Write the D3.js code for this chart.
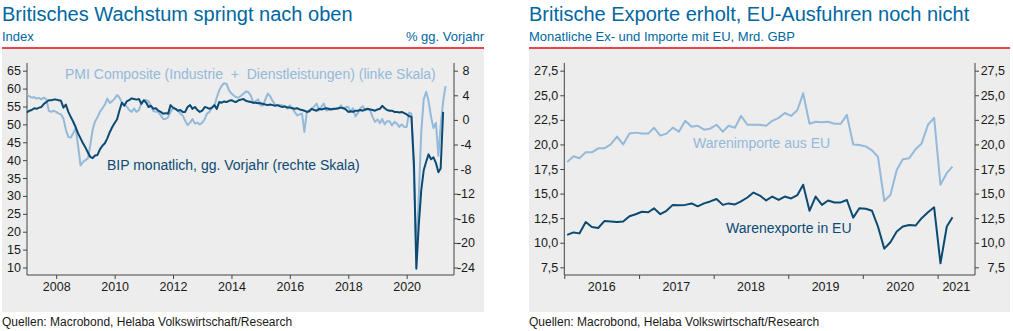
<!DOCTYPE html>
<html><head><meta charset="utf-8">
<script src="https://cdn.jsdelivr.net/npm/d3@7"></script>
<style>
body{margin:0;background:#fff;}
svg{display:block;font-family:"Liberation Sans",Arial,Helvetica,sans-serif;}
</style></head><body>
<svg id="c" width="1013" height="331"></svg>
<script>
// ---------- DATA: left chart (monthly, starting Jan 2007) ----------
const pmiStart = new Date(2007, 0, 1);
const pmiValues = [
58.3,57.8,57.5,57.6,57.2,57.4,57.0,57.5,57.0,53.8,53.5,53.8,
53.5,53.0,52.8,51.6,48.5,46.5,46.3,47.5,49.0,44.0,38.5,39.5,
40.0,40.5,44.0,48.5,50.8,52.0,53.5,54.5,55.5,57.2,56.0,56.5,
57.2,58.2,57.5,56.2,55.5,55.0,54.0,53.5,54.4,53.5,54.0,56.0,
56.8,56.8,56.5,55.0,53.7,53.5,53.5,52.5,51.5,51.5,52.0,53.5,
54.5,54.3,54.0,53.0,52.5,51.0,49.8,50.5,51.5,50.2,50.5,50.0,
50.5,51.5,53.0,53.5,54.5,55.2,57.5,59.5,60.8,61.5,61.3,59.5,
58.6,58.0,57.6,57.5,58.0,58.6,59.2,59.0,58.0,56.0,56.5,57.0,
55.3,55.3,57.0,58.6,57.8,56.5,55.5,55.3,55.5,55.3,55.0,54.4,
55.3,54.5,53.5,52.5,52.8,53.0,47.9,53.5,54.0,54.4,55.0,55.8,
53.9,55.0,55.8,53.9,54.0,54.4,54.2,54.4,54.5,55.3,54.4,54.8,
54.9,53.5,54.5,52.2,53.2,54.5,55.1,53.9,54.2,53.9,52.1,50.7,
51.4,50.3,51.5,50.0,50.9,50.9,49.7,50.7,50.2,49.3,50.0,49.3,
49.3,53.3,53.0,36.0,13.8,30.0,47.7,57.0,59.1,56.5,52.1,49.0,
50.4,41.2,49.6,56.4,60.7
];
const bipValues = [
1.2,1.5,1.6,1.9,1.8,2.0,2.1,2.6,2.9,3.2,3.2,3.3,
3.3,3.2,3.1,2.0,2.5,1.3,0.5,-0.3,-1.2,-2.2,-3.0,-3.8,
-4.5,-5.3,-6.0,-6.2,-5.8,-5.7,-4.8,-4.2,-3.8,-3.0,-2.0,-1.2,
-0.5,0.1,1.5,2.8,2.3,3.0,3.2,3.5,3.4,3.3,3.4,2.6,
3.2,2.8,2.1,2.3,1.8,1.9,1.5,1.3,1.0,1.1,1.0,2.4,
2.0,1.8,1.5,1.6,1.3,1.3,2.1,2.4,1.8,2.1,1.6,1.3,
1.5,2.1,2.0,1.8,2.0,2.4,1.8,2.9,2.8,3.0,2.9,3.1,
3.2,3.0,2.9,3.2,3.3,3.4,3.1,3.0,2.9,2.8,2.8,2.7,
2.7,2.6,2.5,2.4,2.5,2.4,2.3,2.4,2.2,2.1,2.2,2.0,
2.0,1.9,1.8,1.9,1.7,1.6,1.5,1.3,1.4,1.8,1.6,1.5,
1.8,1.7,1.8,1.9,1.8,1.7,1.8,1.8,1.9,2.0,1.9,1.7,
1.3,1.4,1.3,1.5,1.5,1.6,1.5,1.7,1.8,1.7,1.6,1.5,
1.7,1.8,2.3,1.9,1.6,1.5,1.5,1.3,1.3,1.2,1.3,1.1,
0.9,0.6,0.5,-7.0,-24.2,-17.0,-11.5,-8.2,-6.8,-5.6,-6.4,-6.1,
-7.0,-8.5,-7.9,1.3
];
const leftTicksIndex = [10,15,20,25,30,35,40,45,50,55,60,65];
const leftTicksPct = [-24,-20,-16,-12,-8,-4,0,4,8];
const leftYears = [2008,2010,2012,2014,2016,2018,2020];

// ---------- DATA: right chart (monthly, starting Jan 2016) ----------
const tradeStart = new Date(2016, 0, 15);
const exportValues = [
10.8,11.05,10.95,12.1,11.6,11.5,12.2,12.15,12.1,12.15,12.7,12.9,
13.15,13.1,13.5,12.9,13.25,13.85,13.8,13.85,14.0,13.7,14.0,14.2,
14.45,13.85,14.0,13.9,14.2,14.6,15.1,14.8,14.3,14.7,14.35,14.7,
14.5,14.85,15.9,13.25,14.7,13.85,14.3,14.1,14.1,14.35,12.55,13.5,
13.45,13.25,11.65,9.4,10.05,11.15,11.65,11.8,11.75,12.5,13.1,13.6,
7.9,11.65,12.6
];
const importValues = [
18.2,18.8,18.6,19.2,19.2,19.6,19.6,20.0,20.8,20.0,21.1,21.2,
21.1,21.1,21.7,20.9,21.1,21.7,21.3,22.4,21.8,21.9,21.5,21.6,
22.0,21.3,21.9,21.7,22.9,22.0,22.0,22.0,21.9,22.4,22.7,23.2,
22.9,23.5,25.2,22.1,22.3,22.25,22.3,22.1,22.1,23.0,20.0,19.95,
19.8,19.4,18.75,14.25,14.85,17.4,18.5,18.6,19.5,20.1,22.0,22.7,
15.9,17.1,17.75
];
const rightTicks = [7.5,10,12.5,15,17.5,20,22.5,25,27.5];
const rightYears = [2016,2017,2018,2019,2020,2021];

// ---------- STYLE ----------
const RED = "#e30613", PANEL = "#ededed", DARK = "#0b4a72", LIGHT = "#94b9d9",
      TITLE = "#0067a2", AXIS = "#444", TXT = "#1a1a1a";
const de = d3.formatLocale({decimal: ",", thousands: ".", grouping: [3], currency: ["", " €"], minus: "-"});
const f1 = de.format(".1f"), f0 = de.format("d");

const svg = d3.select("#c");

function panel(x0, x1, title, subL, subR) {
  svg.append("rect").attr("x", x0).attr("y", 49).attr("width", x1 - x0).attr("height", 263).attr("fill", PANEL);
  svg.append("line").attr("x1", x0).attr("x2", x1).attr("y1", 48).attr("y2", 48)
     .attr("stroke", RED).attr("stroke-width", 1.5);
  svg.append("text").attr("x", x0).attr("y", 21).attr("fill", TITLE).attr("font-size", 20).text(title);
  svg.append("text").attr("x", x0).attr("y", 41).attr("fill", TITLE).attr("font-size", 13).text(subL);
  if (subR) svg.append("text").attr("x", x1).attr("y", 41).attr("text-anchor", "end")
     .attr("fill", TITLE).attr("font-size", 13).text(subR);
  svg.append("text").attr("x", x0).attr("y", 326).attr("fill", TXT).attr("font-size", 12)
     .text("Quellen: Macrobond, Helaba Volkswirtschaft/Research");
}
panel(2, 484, "Britisches Wachstum springt nach oben", "Index", "% gg. Vorjahr");
panel(529, 1010, "Britische Exporte erholt, EU-Ausfuhren noch nicht", "Monatliche Ex- und Importe mit EU, Mrd. GBP");

const TOP = 63, BOT = 275;

function styleAxis(g) {
  g.select(".domain").remove();
  g.selectAll(".tick line").attr("stroke", AXIS);
  g.selectAll(".tick text").attr("fill", TXT).attr("font-size", 12.5).attr("font-family", null);
}
function frame(xl, xr) {
  [xl, xr].forEach(x => svg.append("line").attr("x1", x).attr("x2", x).attr("y1", TOP).attr("y2", BOT).attr("stroke", AXIS));
  svg.append("line").attr("x1", xl).attr("x2", xr).attr("y1", BOT).attr("y2", BOT).attr("stroke", AXIS);
}

// ---------- LEFT CHART ----------
{
  const L = 27, R = 454;
  const x = d3.scaleTime().domain([new Date(2007, 0, 1), new Date(2021, 7, 15)]).range([L, R]);
  const yI = d3.scaleLinear().domain([10, 65]).range([267.5, 70.7]);
  const yP = d3.scaleLinear().domain([-24, 8]).range([267.5, 70.7]);
  const pmi = pmiValues.map((v, i) => ({d: d3.timeMonth.offset(pmiStart, i), v}));
  const bip = bipValues.map((v, i) => ({d: d3.timeMonth.offset(pmiStart, i), v}));

  svg.append("g").attr("transform", `translate(${L},0)`)
    .call(d3.axisLeft(yI).tickValues(leftTicksIndex).tickFormat(f0).tickSize(4).tickPadding(2)).call(styleAxis);
  const gr = svg.append("g").attr("transform", `translate(${R},0)`)
    .call(d3.axisRight(yP).tickValues(leftTicksPct).tickFormat(f0).tickSize(4)).call(styleAxis);
  gr.selectAll(".tick text").attr("x", 12).attr("text-anchor", "middle");
  svg.append("g").attr("transform", `translate(0,${BOT})`)
    .call(d3.axisBottom(x).tickValues(leftYears.map(y => new Date(y, 0, 1))).tickFormat(d3.timeFormat("%Y")).tickSize(4).tickPadding(3))
    .call(styleAxis);
  frame(L, R);

  const line = (ys) => d3.line().x(p => x(p.d)).y(p => ys(p.v));
  svg.append("path").datum(pmi).attr("d", line(yI)).attr("fill", "none").attr("stroke", LIGHT).attr("stroke-width", 2).attr("stroke-linejoin", "round");
  svg.append("path").datum(bip).attr("d", line(yP)).attr("fill", "none").attr("stroke", DARK).attr("stroke-width", 2).attr("stroke-linejoin", "round");

  svg.append("text").attr("x", 65).attr("y", 79).attr("fill", LIGHT).attr("font-size", 14)
     .style("white-space", "pre").text("PMI Composite (Industrie  +  Dienstleistungen) (linke Skala)");
  svg.append("text").attr("x", 107).attr("y", 170).attr("fill", DARK).attr("font-size", 14)
     .text("BIP monatlich, gg. Vorjahr (rechte Skala)");
}

// ---------- RIGHT CHART ----------
{
  const L = 564.3, R = 975;
  const end = new Date(2021, 6, 3);
  const x = d3.scaleTime().domain([new Date(2016, 0, 1), end]).range([L, R]);
  const y = d3.scaleLinear().domain([7.5, 27.5]).range([267.3, 70.7]);
  const ex = exportValues.map((v, i) => ({d: d3.timeMonth.offset(tradeStart, i), v}));
  const im = importValues.map((v, i) => ({d: d3.timeMonth.offset(tradeStart, i), v}));

  svg.append("g").attr("transform", `translate(${L},0)`)
    .call(d3.axisLeft(y).tickValues(rightTicks).tickFormat(f1).tickSize(4).tickPadding(2)).call(styleAxis);
  const gr = svg.append("g").attr("transform", `translate(${R},0)`)
    .call(d3.axisRight(y).tickValues(rightTicks).tickFormat(f1).tickSize(4)).call(styleAxis);
  gr.selectAll(".tick text").attr("x", 30).attr("text-anchor", "end");
  svg.append("g").attr("transform", `translate(0,${BOT})`)
    .call(d3.axisBottom(x).tickValues(rightYears.map(yy => new Date(yy, 0, 1))).tickFormat("").tickSize(4))
    .call(styleAxis);
  svg.append("g").selectAll("text").data(rightYears).join("text")
    .attr("x", yy => (x(new Date(yy, 0, 1)) + x(d3.min([new Date(yy + 1, 0, 1), end]))) / 2)
    .attr("y", 291).attr("text-anchor", "middle").attr("fill", TXT).attr("font-size", 12.5).text(yy => yy);
  frame(L, R);

  const line = d3.line().x(p => x(p.d)).y(p => y(p.v));
  svg.append("path").datum(im).attr("d", line).attr("fill", "none").attr("stroke", LIGHT).attr("stroke-width", 2).attr("stroke-linejoin", "round");
  svg.append("path").datum(ex).attr("d", line).attr("fill", "none").attr("stroke", DARK).attr("stroke-width", 2).attr("stroke-linejoin", "round");

  svg.append("text").attr("x", 693).attr("y", 148).attr("fill", LIGHT).attr("font-size", 14).text("Warenimporte aus EU");
  svg.append("text").attr("x", 726).attr("y", 233).attr("fill", DARK).attr("font-size", 14).text("Warenexporte in EU");
}
</script>
</body></html>
